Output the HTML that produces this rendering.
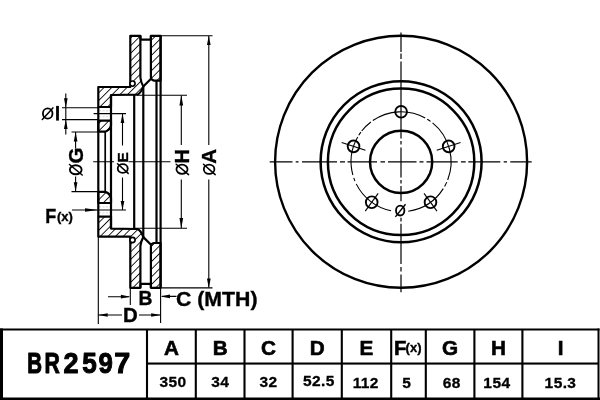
<!DOCTYPE html>
<html><head><meta charset="utf-8"><style>
html,body{margin:0;padding:0;background:#fff;width:600px;height:400px;overflow:hidden}
svg{display:block}
</style></head><body>
<svg style="will-change:transform" width="600" height="400" viewBox="0 0 600 400">
<defs><pattern id="hatch" patternUnits="userSpaceOnUse" width="5.4" height="20" patternTransform="rotate(45)"><line x1="0" y1="0" x2="0" y2="20" stroke="#000" stroke-width="1.7"/></pattern></defs>
<rect width="600" height="400" fill="#fff"/>
<path d="M98.3,87 L130.3,87 L130.3,35.8 L140.4,35.8 L140.4,77.5 Q140.8,82 143.3,86.5 Q141,93 137.5,94.6 L111,95 L111,107 L98.3,107 Z" fill="url(#hatch)" stroke="#000" stroke-width="2.2" stroke-linejoin="round"/>
<circle cx="132.5" cy="83.6" r="2.6" fill="#fff" stroke="#000" stroke-width="1.6"/>
<path d="M150.9,35.8 L160.6,35.8 L160.6,80.6 L154,80.6 Q150.9,80 150.9,77 Z" fill="url(#hatch)" stroke="#000" stroke-width="2.2" stroke-linejoin="round"/>
<path d="M140.4,35.8 L140.4,38.4 Q140.4,39.7 141.7,39.7 L149.6,39.7 Q150.9,39.7 150.9,38.4 L150.9,35.8" fill="none" stroke="#000" stroke-width="2.2"/>
<path d="M143.3,86.5 L151.5,78.3" stroke="#000" stroke-width="2.2"/>
<path d="M98.3,120.6 L111,120.6 L111,125.6 Q110,130.2 105.2,131.7 L98.3,131.7 Z" fill="url(#hatch)" stroke="#000" stroke-width="2.2" stroke-linejoin="round"/>
<path d="M99,110.8 L110,110.8 M99,116.7 L110,116.7" stroke="#d8d8d8" stroke-width="1" stroke-dasharray="2,1.5"/>
<path d="M98.3,236.6 L130.3,236.6 L130.3,287.8 L140.4,287.8 L140.4,246.1 Q140.8,241.6 143.3,237.1 Q141,230.6 137.5,229.0 L111,228.6 L111,216.6 L98.3,216.6 Z" fill="url(#hatch)" stroke="#000" stroke-width="2.2" stroke-linejoin="round"/>
<circle cx="132.5" cy="240.0" r="2.6" fill="#fff" stroke="#000" stroke-width="1.6"/>
<path d="M150.9,287.8 L160.6,287.8 L160.6,243.0 L154,243.0 Q150.9,243.6 150.9,246.6 Z" fill="url(#hatch)" stroke="#000" stroke-width="2.2" stroke-linejoin="round"/>
<path d="M140.4,287.8 L140.4,285.2 Q140.4,283.9 141.7,283.9 L149.6,283.9 Q150.9,283.9 150.9,285.2 L150.9,287.8" fill="none" stroke="#000" stroke-width="2.2"/>
<path d="M143.3,237.1 L151.5,245.3" stroke="#000" stroke-width="2.2"/>
<path d="M98.3,203.0 L111,203.0 L111,198.0 Q110,193.4 105.2,191.9 L98.3,191.9 Z" fill="url(#hatch)" stroke="#000" stroke-width="2.2" stroke-linejoin="round"/>
<path d="M99,212.8 L110,212.8 M99,206.9 L110,206.9" stroke="#d8d8d8" stroke-width="1" stroke-dasharray="2,1.5"/>
<path d="M98.3,107 L98.3,216.6" stroke="#000" stroke-width="2.2"/>
<path d="M111,95 L111,228.6" stroke="#000" stroke-width="2.2"/>
<path d="M105.2,131.7 L105.2,191.9" stroke="#000" stroke-width="1.7"/>
<path d="M134.2,95 L134.2,228.6" stroke="#000" stroke-width="2.2"/>
<path d="M143.3,86.5 L143.3,237.1" stroke="#000" stroke-width="2.2"/>
<path d="M156.5,80.6 L156.5,243.0" stroke="#000" stroke-width="2.2"/>
<path d="M160.6,35.8 L160.6,287.8" stroke="#000" stroke-width="2.2"/>
<path d="M160.6,35.7 L212.5,35.7 M160.6,287.9 L212.5,287.9 M137,95.3 L187,95.3 M134,228.3 L187,228.3" stroke="#000" stroke-width="1.1"/>
<path d="M208.8,36 L208.8,145 M208.8,179.5 L208.8,287.5" stroke="#000" stroke-width="1.1"/>
<polygon points="208.80,35.70 206.95,45.10 210.65,45.10" fill="#000"/>
<polygon points="208.80,287.90 206.95,278.50 210.65,278.50" fill="#000"/>
<path d="M181.3,95.5 L181.3,145 M181.3,179.5 L181.3,228" stroke="#000" stroke-width="1.1"/>
<polygon points="181.30,95.30 179.45,105.50 183.15,105.50" fill="#000"/>
<polygon points="181.30,228.30 179.45,218.10 183.15,218.10" fill="#000"/>
<path d="M93.6,113.6 L126,113.6 M72,210 L126,210" stroke="#000" stroke-width="1.1"/>
<path d="M122.5,113.6 L122.5,145.6 M122.5,177.5 L122.5,210" stroke="#000" stroke-width="1.1"/>
<polygon points="122.50,113.60 120.65,123.00 124.35,123.00" fill="#000"/>
<polygon points="122.50,210.00 120.65,201.00 124.35,201.00" fill="#000"/>
<path d="M62,107.7 L98.3,107.7 M62,119.6 L98.3,119.6" stroke="#000" stroke-width="1.1"/>
<path d="M65.8,93.5 L65.8,134.6" stroke="#000" stroke-width="1.1"/>
<polygon points="65.80,107.70 63.95,98.30 67.65,98.30" fill="#000"/>
<polygon points="65.80,119.60 63.95,129.00 67.65,129.00" fill="#000"/>
<path d="M71.5,132 L98.3,132 M71.5,191.6 L98.3,191.6" stroke="#000" stroke-width="1.1"/>
<path d="M75.6,132 L75.6,148.5 M75.6,176.5 L75.6,191.6" stroke="#000" stroke-width="1.1"/>
<polygon points="75.60,132.00 73.75,141.40 77.45,141.40" fill="#000"/>
<polygon points="75.60,191.60 73.75,182.20 77.45,182.20" fill="#000"/>
<polygon points="98.00,210.00 85.00,208.30 85.00,211.70" fill="#000"/>
<path d="M93.2,161.7 L114,161.7 M128.5,161.7 L170.5,161.7" stroke="#000" stroke-width="1.1"/>
<path d="M98.3,236.6 L98.3,324 M130.3,287.9 L130.3,305 M160.6,287.9 L160.6,323" stroke="#000" stroke-width="1.1"/>
<path d="M108,296.7 L129,296.7 M162,296.4 L176.5,296.4" stroke="#000" stroke-width="1.1"/>
<polygon points="130.30,296.70 120.90,294.85 120.90,298.55" fill="#000"/>
<polygon points="160.60,296.40 170.00,294.55 170.00,298.25" fill="#000"/>
<path d="M98.3,315 L122,315 M139,315 L160.6,315" stroke="#000" stroke-width="1.1"/>
<polygon points="98.30,315.00 107.70,313.15 107.70,316.85" fill="#000"/>
<polygon points="160.60,315.00 151.20,313.15 151.20,316.85" fill="#000"/>
<circle cx="401.1" cy="161.8" r="126" fill="none" stroke="#000" stroke-width="2.4"/>
<circle cx="401.1" cy="161.8" r="80.5" fill="none" stroke="#000" stroke-width="2.5"/>
<circle cx="401.1" cy="161.8" r="73.2" fill="none" stroke="#000" stroke-width="2.5"/>
<circle cx="401.1" cy="161.8" r="31.1" fill="none" stroke="#000" stroke-width="2.5"/>
<path d="M372.85,120.54 A50,50 0 0 1 425.19,117.98 M427.22,119.17 A50,50 0 0 1 430.56,121.40 M432.57,122.94 A50,50 0 0 1 447.68,179.96 M446.78,182.14 A50,50 0 0 1 444.57,186.50 M443.27,188.66 A50,50 0 0 1 408.23,211.29 M391.05,210.78 A50,50 0 0 1 356.24,183.88 M354.91,180.93 A50,50 0 0 1 353.77,177.91 M352.87,174.99 A50,50 0 0 1 357.71,136.95 M358.74,135.23 A50,50 0 0 1 360.91,132.06 M361.70,131.02 A50,50 0 0 1 370.87,121.97" fill="none" stroke="#000" stroke-width="1.1"/>
<path d="M269.7,161.8 L292.5,161.8 M295.7,161.8 L298.5,161.8 M302,161.8 L337,161.8 M340,161.8 L345,161.8 M347.5,161.8 L377,161.8 M380.5,161.8 L385,161.8 M388,161.8 L416.5,161.8 M419.5,161.8 L423.5,161.8 M426.5,161.8 L457.7,161.8 M461,161.8 L465.7,161.8 M468.3,161.8 L500.3,161.8 M503.7,161.8 L507,161.8 M510.3,161.8 L531.7,161.8" stroke="#000" stroke-width="1.2"/>
<path d="M401,32.6 L401,51.9 M401,53.6 L401,58.9 M401,61.5 L401,138.5 M401,141 L401,144.5 M401,147.5 L401,177.5 M401,180 L401,183.5 M401,186 L401,201.2 M401,217.7 L401,221.5 M401,223.7 L401,264 M401,266.9 L401,271.6 M401,274.4 L401,292.2" stroke="#000" stroke-width="1.2"/>
<circle cx="401.10" cy="111.80" r="5.85" fill="none" stroke="#000" stroke-width="1.9"/>
<path d="M436.76,150.21 L460.54,142.49" stroke="#000" stroke-width="1.1"/>
<circle cx="448.65" cy="146.35" r="5.85" fill="none" stroke="#000" stroke-width="1.9"/>
<path d="M424.02,193.35 L436.95,211.15" stroke="#000" stroke-width="1.1"/>
<circle cx="430.49" cy="202.25" r="5.85" fill="none" stroke="#000" stroke-width="1.9"/>
<path d="M378.18,193.35 L365.25,211.15" stroke="#000" stroke-width="1.1"/>
<circle cx="371.71" cy="202.25" r="5.85" fill="none" stroke="#000" stroke-width="1.9"/>
<path d="M365.44,150.21 L341.66,142.49" stroke="#000" stroke-width="1.1"/>
<circle cx="353.55" cy="146.35" r="5.85" fill="none" stroke="#000" stroke-width="1.9"/>
<ellipse cx="400.2" cy="210.6" rx="4.2" ry="4.9" fill="none" stroke="#000" stroke-width="1.8"/>
<path d="M395.4,216.9 L405.5,204.3" stroke="#000" stroke-width="1.4"/>
<ellipse cx="47.7" cy="113.45" rx="4.8" ry="5.15" fill="none" stroke="#000" stroke-width="1.8"/><path d="M42.3,119.5 L52.9,107.9" stroke="#000" stroke-width="1.5" stroke-linecap="round"/>
<rect x="56.1" y="105.9" width="2.8" height="14.7" fill="#000"/>
<text font-family="Liberation Sans, sans-serif" font-weight="bold" stroke="#000" stroke-width="0.35" font-size="20.5" transform="translate(83.3,163.5) rotate(-90)">G</text>
<ellipse cx="75.75" cy="169.75" rx="5.9" ry="4.5" fill="none" stroke="#000" stroke-width="1.8"/><path d="M69.5,164.5 L82.2,175" stroke="#000" stroke-width="1.5" stroke-linecap="round"/>
<text font-family="Liberation Sans, sans-serif" font-weight="bold" stroke="#000" stroke-width="0.35" font-size="15.4" transform="translate(128,162.5) rotate(-90)">E</text>
<ellipse cx="122.75" cy="168.5" rx="5.0" ry="4.3" fill="none" stroke="#000" stroke-width="1.8"/><path d="M117.5,163.8 L128.2,173.4" stroke="#000" stroke-width="1.5" stroke-linecap="round"/>
<text font-family="Liberation Sans, sans-serif" font-weight="bold" stroke="#000" stroke-width="0.35" font-size="20" transform="translate(188.8,163.5) rotate(-90)">H</text>
<ellipse cx="182" cy="169.25" rx="5.55" ry="4.65" fill="none" stroke="#000" stroke-width="1.8"/><path d="M176.2,164.2 L188.6,174.6" stroke="#000" stroke-width="1.5" stroke-linecap="round"/>
<text font-family="Liberation Sans, sans-serif" font-weight="bold" stroke="#000" stroke-width="0.35" font-size="20.5" transform="translate(215.8,163.8) rotate(-90)">A</text>
<ellipse cx="209.1" cy="169.25" rx="5.3" ry="4.65" fill="none" stroke="#000" stroke-width="1.8"/><path d="M203.5,164.2 L215.2,174.6" stroke="#000" stroke-width="1.5" stroke-linecap="round"/>
<text x="45.2" y="223" font-family="Liberation Sans, sans-serif" font-weight="bold" stroke="#000" stroke-width="0.35" font-size="20.4" textLength="11" lengthAdjust="spacingAndGlyphs">F</text>
<text x="57" y="220.8" font-family="Liberation Sans, sans-serif" font-weight="bold" stroke="#000" stroke-width="0.35" font-size="13">(x)</text>
<text x="138.4" y="305.1" font-family="Liberation Sans, sans-serif" font-weight="bold" stroke="#000" stroke-width="0.35" font-size="19.3">B</text>
<text x="176" y="306.1" font-family="Liberation Sans, sans-serif" font-weight="bold" stroke="#000" stroke-width="0.35" font-size="20.4" textLength="81.5" lengthAdjust="spacingAndGlyphs">C (MTH)</text>
<text x="123" y="321.8" font-family="Liberation Sans, sans-serif" font-weight="bold" stroke="#000" stroke-width="0.35" font-size="20.4">D</text>
<rect x="0" y="328.5" width="599.5" height="2" fill="#000"/>
<rect x="0" y="397.5" width="600" height="2.5" fill="#000"/>
<rect x="0" y="328.5" width="3" height="71.5" fill="#000"/>
<rect x="597.5" y="328.5" width="2" height="71.5" fill="#000"/>
<rect x="145.95" y="329" width="2.1" height="70" fill="#000"/>
<rect x="194.75" y="329" width="2.1" height="70" fill="#000"/>
<rect x="243.45" y="329" width="2.1" height="70" fill="#000"/>
<rect x="291.55" y="329" width="2.1" height="70" fill="#000"/>
<rect x="340.75" y="329" width="2.1" height="70" fill="#000"/>
<rect x="390.15" y="329" width="2.1" height="70" fill="#000"/>
<rect x="424.75" y="329" width="2.1" height="70" fill="#000"/>
<rect x="473.35" y="329" width="2.1" height="70" fill="#000"/>
<rect x="521.35" y="329" width="2.1" height="70" fill="#000"/>
<rect x="147" y="362.5" width="451" height="2.1" fill="#000"/>
<text font-family="Liberation Sans, sans-serif" font-weight="bold" font-size="28.6" stroke="#000" stroke-width="1.0" stroke-linejoin="round" transform="translate(27.13,373.2) scale(0.716,1)">B</text>
<text font-family="Liberation Sans, sans-serif" font-weight="bold" font-size="28.6" stroke="#000" stroke-width="1.0" stroke-linejoin="round" transform="translate(44.58,373.2) scale(0.743,1)">R</text>
<text font-family="Liberation Sans, sans-serif" font-weight="bold" font-size="28.6" stroke="#000" stroke-width="1.0" stroke-linejoin="round" transform="translate(63.55,373.2) scale(0.945,1)">2</text>
<text font-family="Liberation Sans, sans-serif" font-weight="bold" font-size="28.6" stroke="#000" stroke-width="1.0" stroke-linejoin="round" transform="translate(82.19,373.2) scale(0.915,1)">5</text>
<text font-family="Liberation Sans, sans-serif" font-weight="bold" font-size="28.6" stroke="#000" stroke-width="1.0" stroke-linejoin="round" transform="translate(98.60,373.2) scale(0.903,1)">9</text>
<text font-family="Liberation Sans, sans-serif" font-weight="bold" font-size="28.6" stroke="#000" stroke-width="1.0" stroke-linejoin="round" transform="translate(114.26,373.2) scale(1.006,1)">7</text>
<text x="171.4" y="354.6" font-family="Liberation Sans, sans-serif" font-weight="bold" font-size="20.7" stroke="#000" stroke-width="0.6" text-anchor="middle">A</text>
<text x="173.0" y="387.1" font-family="Liberation Sans, sans-serif" font-weight="bold" font-size="15.5" letter-spacing="0.4" stroke="#000" stroke-width="0.3" text-anchor="middle">350</text>
<text x="220.2" y="354.6" font-family="Liberation Sans, sans-serif" font-weight="bold" font-size="20.7" stroke="#000" stroke-width="0.6" text-anchor="middle">B</text>
<text x="220.2" y="387.1" font-family="Liberation Sans, sans-serif" font-weight="bold" font-size="15.5" letter-spacing="0.4" stroke="#000" stroke-width="0.3" text-anchor="middle">34</text>
<text x="268.6" y="354.6" font-family="Liberation Sans, sans-serif" font-weight="bold" font-size="20.7" stroke="#000" stroke-width="0.6" text-anchor="middle">C</text>
<text x="268.6" y="387.1" font-family="Liberation Sans, sans-serif" font-weight="bold" font-size="15.5" letter-spacing="0.4" stroke="#000" stroke-width="0.3" text-anchor="middle">32</text>
<text x="317.2" y="354.6" font-family="Liberation Sans, sans-serif" font-weight="bold" font-size="20.7" stroke="#000" stroke-width="0.6" text-anchor="middle">D</text>
<text x="318.9" y="386.4" font-family="Liberation Sans, sans-serif" font-weight="bold" font-size="15.5" letter-spacing="0.4" stroke="#000" stroke-width="0.3" text-anchor="middle">52.5</text>
<text x="366.5" y="354.6" font-family="Liberation Sans, sans-serif" font-weight="bold" font-size="20.7" stroke="#000" stroke-width="0.6" text-anchor="middle">E</text>
<text x="365.8" y="387.9" font-family="Liberation Sans, sans-serif" font-weight="bold" font-size="15.5" letter-spacing="0.4" stroke="#000" stroke-width="0.3" text-anchor="middle">112</text>
<text x="406.7" y="388.0" font-family="Liberation Sans, sans-serif" font-weight="bold" font-size="15.5" letter-spacing="0.4" stroke="#000" stroke-width="0.3" text-anchor="middle">5</text>
<text x="450.1" y="354.6" font-family="Liberation Sans, sans-serif" font-weight="bold" font-size="20.7" stroke="#000" stroke-width="0.6" text-anchor="middle">G</text>
<text x="451.7" y="387.6" font-family="Liberation Sans, sans-serif" font-weight="bold" font-size="15.5" letter-spacing="0.4" stroke="#000" stroke-width="0.3" text-anchor="middle">68</text>
<text x="498.4" y="354.6" font-family="Liberation Sans, sans-serif" font-weight="bold" font-size="20.7" stroke="#000" stroke-width="0.6" text-anchor="middle">H</text>
<text x="496.9" y="387.6" font-family="Liberation Sans, sans-serif" font-weight="bold" font-size="15.5" letter-spacing="0.4" stroke="#000" stroke-width="0.3" text-anchor="middle">154</text>
<text x="560.5" y="354.6" font-family="Liberation Sans, sans-serif" font-weight="bold" font-size="20.7" stroke="#000" stroke-width="0.6" text-anchor="middle">I</text>
<text x="560.5" y="387.6" font-family="Liberation Sans, sans-serif" font-weight="bold" font-size="15.5" letter-spacing="0.4" stroke="#000" stroke-width="0.3" text-anchor="middle">15.3</text>
<text x="394" y="354.5" font-family="Liberation Sans, sans-serif" font-weight="bold" font-size="20.3" stroke="#000" stroke-width="0.6">F</text>
<text x="405.6" y="351.8" font-family="Liberation Sans, sans-serif" font-weight="bold" stroke="#000" stroke-width="0.35" font-size="13">(x)</text>
</svg>
</body></html>
